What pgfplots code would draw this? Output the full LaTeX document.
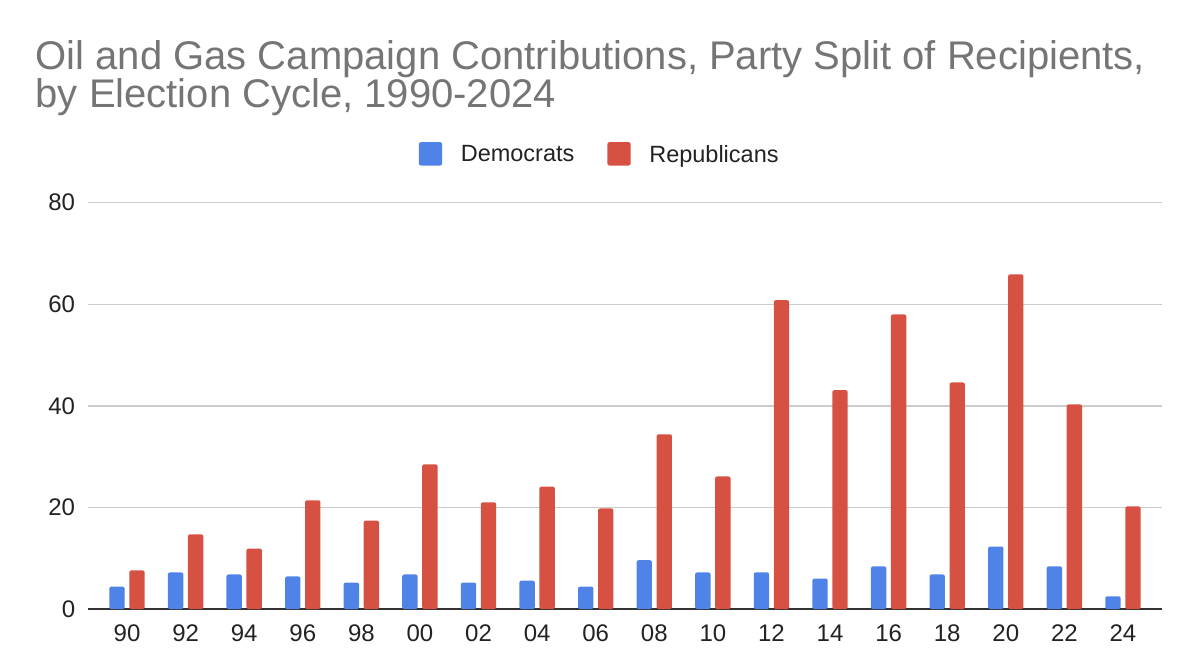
\documentclass[border=0pt]{standalone}
\usepackage{fontspec}
\setmainfont{Liberation Sans}
\usepackage{pgfplots}
\pgfplotsset{compat=1.18}
\definecolor{dem}{RGB}{80,131,231}
\definecolor{rep}{RGB}{214,81,66}
\definecolor{titlegray}{RGB}{117,117,117}
\definecolor{gridgray}{RGB}{204,204,204}
\definecolor{axisdark}{RGB}{51,51,51}
\definecolor{txt}{RGB}{34,34,34}

\pgfplotstableread{
x D R
0 4.4 7.6
1 7.2 14.7
2 6.8 11.9
3 6.4 21.4
4 5.2 17.4
5 6.8 28.5
6 5.2 21.0
7 5.6 24.1
8 4.4 19.8
9 9.6 34.4
10 7.2 26.1
11 7.2 60.8
12 6.0 43.1
13 8.4 58.0
14 6.8 44.6
15 12.3 65.9
16 8.4 40.3
17 2.5 20.2
}\datatable

\begin{document}
\begin{tikzpicture}
\path[use as bounding box] (-88bp,-62bp) rectangle (1111bp,609bp);
\node[anchor=base west, inner sep=0pt, text=titlegray, align=left, font=\fontsize{40bp}{36bp}\selectfont] at (-52.5bp,501bp) {Oil and Gas Campaign Contributions, Party Split of Recipients,\\by Election Cycle, 1990-2024};
\begin{axis}[
  at={(0,0)}, anchor=south west,
  scale only axis, width=1074bp, height=406.3bp,
  xmin=-0.666, xmax=17.666, ymin=0, ymax=80,
  xtick={0,...,17},
  xticklabels={90,92,94,96,98,00,02,04,06,08,10,12,14,16,18,20,22,24},
  ytick={20,40,60,80},
  extra y ticks={0},
  extra y tick style={ymajorgrids=true, major grid style={axisdark, line width=2bp}},
  ymajorgrids, major grid style={gridgray, line width=1.3bp},
  axis line style={draw=none},
  major tick length=0pt,
  /pgf/number format/assume math mode=true,
  tick label style={font=\fontsize{24bp}{28bp}\selectfont, text=txt, inner sep=0pt},
  yticklabel style={xshift=-12.7bp},
  xticklabel style={yshift=-16bp},
  ybar, bar width=15.4bp,
  legend style={at={(rel axis cs:0.4765,1.1199)}, anchor=center, draw=none, fill=none,
    font=\fontsize{23.5bp}{28bp}\selectfont, text=txt, inner sep=0pt, row sep=0pt,
    /tikz/every odd column/.append style={column sep=16.6bp},
    /tikz/every even column/.append style={column sep=31bp}},
  legend columns=2,
  legend image code/.code={\fill[#1, draw=none, rounded corners=2bp] (0bp,-11bp) rectangle (23.3bp,12.3bp);},
]
\addplot[fill=dem, draw=none, bar shift=-10bp, rounded corners=2bp] table[x=x, y=D] {\datatable};
\addplot[fill=rep, draw=none, bar shift=10bp, rounded corners=2bp] table[x=x, y=R] {\datatable};
\legend{Democrats, Republicans}
\end{axis}
\end{tikzpicture}
\end{document}
